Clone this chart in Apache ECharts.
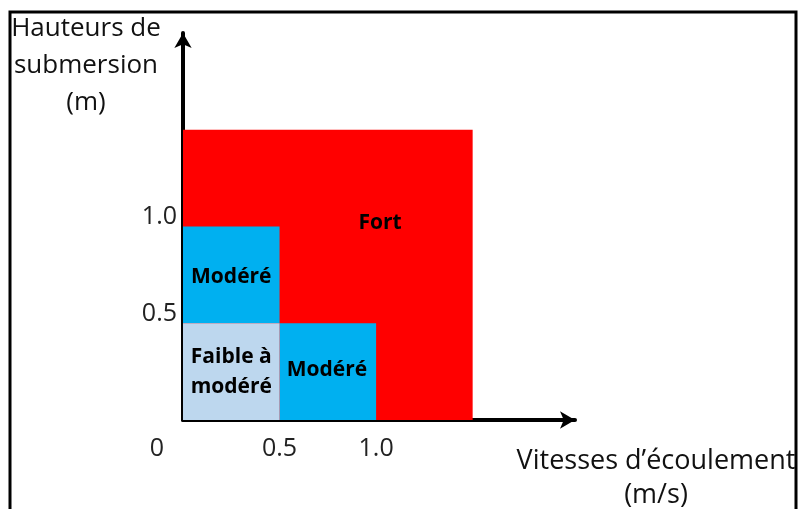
<!DOCTYPE html>
<html>
<head>
<meta charset="utf-8">
<script src="https://cdn.jsdelivr.net/npm/echarts@6/dist/echarts.min.js"></script>
<style>
  html, body { margin: 0; padding: 0; background: #fff; }
  #chart { width: 799px; height: 509px; }
</style>
</head>
<body>
<div id="chart"></div>
<script>
// zones: [x0, y0, x1, y1] in m/s and m
let zoneRects = [
  [0, 0, 1.5, 1.5],
  [0, 0.5, 0.5, 1.0],
  [0.5, 0, 1.0, 0.5],
  [0, 0, 0.5, 0.5],
];
let zoneColors = ['#ff0000', '#00b0f0', '#00b0f0', '#bdd7ee'];

// zone labels at [x, y]
let zoneLabelPos = [
  [1.02, 1.02],
  [0.25, 0.74],
  [0.745, 0.26],
  [0.25, 0.25],
];
let zoneLabelText = ['Fort', 'Modéré', 'Modéré', 'Faible à\nmodéré'];

let xTickLabels = { '0.5': '0.5', '1': '1.0' };
let yTickLabels = { '0.5': '0.5', '1': '1.0' };
let originLabel = '0';

let xTitle = 'Vitesses d’écoulement\n(m/s)';
let yTitle = 'Hauteurs de\nsubmersion\n(m)';

let font = '"Open Sans", sans-serif';

let chart = echarts.init(document.getElementById('chart'));

let options = {
  backgroundColor: '#ffffff',
  animation: false,
  grid: { left: 183, right: 224, top: 33, bottom: 89 },
  xAxis: {
    type: 'value',
    min: 0,
    max: 2.03,
    interval: 0.5,
    splitLine: { show: false },
    axisTick: { show: false },
    axisLine: {
      show: true,
      onZero: false,
      symbol: ['none', 'arrow'],
      symbolSize: [13, 15],
      lineStyle: { color: '#000', width: 4 },
    },
    axisLabel: {
      margin: 16,
      fontFamily: font,
      fontSize: 25,
      color: '#222',
      formatter: (v) => xTickLabels[String(v)] || '',
    },
  },
  yAxis: {
    type: 'value',
    min: 0,
    max: 2,
    interval: 0.5,
    splitLine: { show: false },
    axisTick: { show: false },
    axisLine: {
      show: true,
      onZero: false,
      symbol: ['none', 'arrow'],
      symbolSize: [13, 15],
      lineStyle: { color: '#000', width: 4 },
    },
    axisLabel: {
      margin: 6,
      fontFamily: font,
      fontSize: 25,
      color: '#222',
      verticalAlign: 'bottom',
      padding: [0, 0, -3, 0],
      formatter: (v) => yTickLabels[String(v)] || '',
    },
  },
  series: [
    {
      type: 'custom',
      clip: false,
      z: 1,
      data: zoneRects,
      renderItem: (params, api) => {
        let p0 = api.coord([api.value(0), api.value(1)]);
        let p1 = api.coord([api.value(2), api.value(3)]);
        return {
          type: 'rect',
          shape: {
            x: p0[0],
            y: p1[1],
            width: p1[0] - p0[0],
            height: p0[1] - p1[1],
          },
          style: { fill: zoneColors[params.dataIndex] },
        };
      },
    },
    {
      type: 'custom',
      clip: false,
      z: 3,
      data: zoneLabelPos,
      renderItem: (params, api) => {
        let p = api.coord([api.value(0), api.value(1)]);
        return {
          type: 'text',
          x: p[0],
          y: p[1],
          style: {
            text: zoneLabelText[params.dataIndex],
            font: 'bold 21px ' + font,
            lineHeight: 30,
            fill: '#000',
            textAlign: 'center',
            textVerticalAlign: 'middle',
          },
        };
      },
    },
  ],
  graphic: [
    {
      type: 'rect',
      shape: { x: 10, y: 12, width: 786, height: 520 },
      style: { fill: 'none', stroke: '#000', lineWidth: 3 },
      z: 0,
    },
    {
      type: 'text',
      x: 157,
      y: 436,
      style: { text: originLabel, font: '25px ' + font, fill: '#222', textAlign: 'center' },
    },
    {
      type: 'text',
      x: 86,
      y: 10,
      style: {
        text: yTitle,
        font: '26px ' + font,
        lineHeight: 37,
        fill: '#111',
        textAlign: 'center',
      },
    },
    {
      type: 'text',
      x: 656,
      y: 444,
      style: {
        text: xTitle,
        font: '27px ' + font,
        lineHeight: 34,
        fill: '#111',
        textAlign: 'center',
      },
    },
  ],
};

chart.setOption(options);
</script>
</body>
</html>
